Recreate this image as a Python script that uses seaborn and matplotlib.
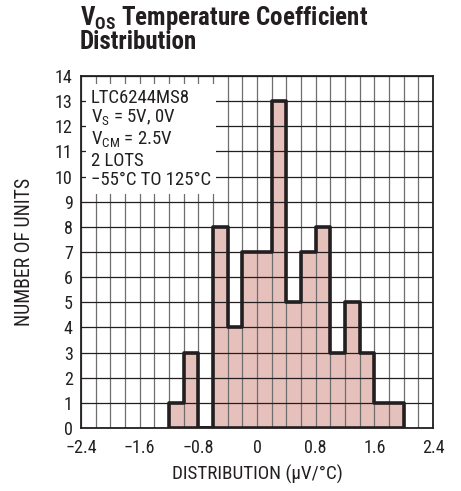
import matplotlib
matplotlib.use("Agg")
import matplotlib.pyplot as plt
from matplotlib.ticker import MultipleLocator
import seaborn as sns
import numpy as np

sns.set_style("white")
plt.rcParams["font.family"] = ["Roboto Condensed", "Liberation Sans", "DejaVu Sans"]
plt.rcParams["mathtext.fontset"] = "custom"
plt.rcParams["mathtext.rm"] = "Roboto Condensed"
plt.rcParams["mathtext.bf"] = "Roboto Condensed:bold"

# bin centres (uV/C) and number of units per 0.2 bin
BIN_CENTERS = [-1.1, -0.9, -0.7, -0.5, -0.3, -0.1, 0.1, 0.3,
               0.5, 0.7, 0.9, 1.1, 1.3, 1.5, 1.7, 1.9]
COUNTS = [1, 3, 0, 8, 4, 7, 7, 13, 5, 7, 8, 3, 5, 3, 1, 1]
BIN_EDGES = [-1.2, -1.0, -0.8, -0.6, -0.4, -0.2, 0.0, 0.2, 0.4,
             0.6, 0.8, 1.0, 1.2, 1.4, 1.6, 1.8, 2.0]
X_TICKS = [-2.4, -1.6, -0.8, 0, 0.8, 1.6, 2.4]
X_TICKLABELS = ["\u22122.4", "\u22121.6", "\u22120.8", "0", "0.8", "1.6", "2.4"]
NOTE_LINES = ["LTC6244MS8", r"V$_{\mathregular{S}}$ = 5V, 0V",
              r"V$_{\mathregular{CM}}$ = 2.5V", "2 LOTS", "\u221255\u00b0C TO 125\u00b0C"]

FILL = "#e6c1bc"
INK = "#231f20"

fig = plt.figure(figsize=(4.61, 4.91), dpi=100)
ax = fig.add_axes([81 / 461, 63 / 491, 352 / 461, 352 / 491])

# pink fill under the grid
sns.histplot(x=BIN_CENTERS, weights=COUNTS, bins=BIN_EDGES, element="step",
             fill=True, color=FILL, facecolor=FILL, edgecolor="none", alpha=1,
             linewidth=0, ax=ax, zorder=1)
# thick step outline above the grid
sns.histplot(x=BIN_CENTERS, weights=COUNTS, bins=BIN_EDGES, element="step",
             fill=True, color=INK, facecolor="none", edgecolor=INK, alpha=1,
             linewidth=2.6, ax=ax, zorder=3)

ax.set_xlim(-2.4, 2.4)
ax.set_ylim(0, 14)
ax.set_xticks(X_TICKS)
ax.set_xticklabels(X_TICKLABELS)
ax.xaxis.set_minor_locator(MultipleLocator(0.2))
ax.yaxis.set_major_locator(MultipleLocator(1))
ax.set_axisbelow(False)
ax.grid(False)
ax.grid(axis="x", which="both", color="#6e6e6e", linewidth=0.9)
ax.grid(axis="y", which="major", color=INK, linewidth=0.9)
ax.tick_params(which="both", length=0, labelsize=13, colors=INK)
ax.tick_params(axis="x", pad=8)
ax.tick_params(axis="y", pad=6)
for s in ax.spines.values():
    s.set_visible(True)
    s.set_color(INK)
    s.set_linewidth(1.3)
    s.set_zorder(4)

ax.set_xlabel("DISTRIBUTION (\u00b5V/\u00b0C)", fontsize=13.8, color=INK, va="center")
ax.set_ylabel("NUMBER OF UNITS", fontsize=14.2, color=INK, va="center")
ax.xaxis.set_label_coords(0.5, (428 - 474) / 352)
ax.yaxis.set_label_coords((25 - 81) / 352, 0.5)

ax.text(-2.27, 13.5, "\n".join(NOTE_LINES), fontsize=13.5, color=INK,
        va="top", ha="left", linespacing=1.1, zorder=5,
        bbox=dict(facecolor="white", edgecolor="none", pad=3.5))

fig.text(80 / 461, 1 - 4 / 491,
         r"V$_{\mathbf{OS}}$ Temperature Coefficient" + "\nDistribution",
         fontsize=18, fontweight="bold", color=INK, va="top", ha="left",
         linespacing=0.92)

fig.savefig("out.png", dpi=100)
